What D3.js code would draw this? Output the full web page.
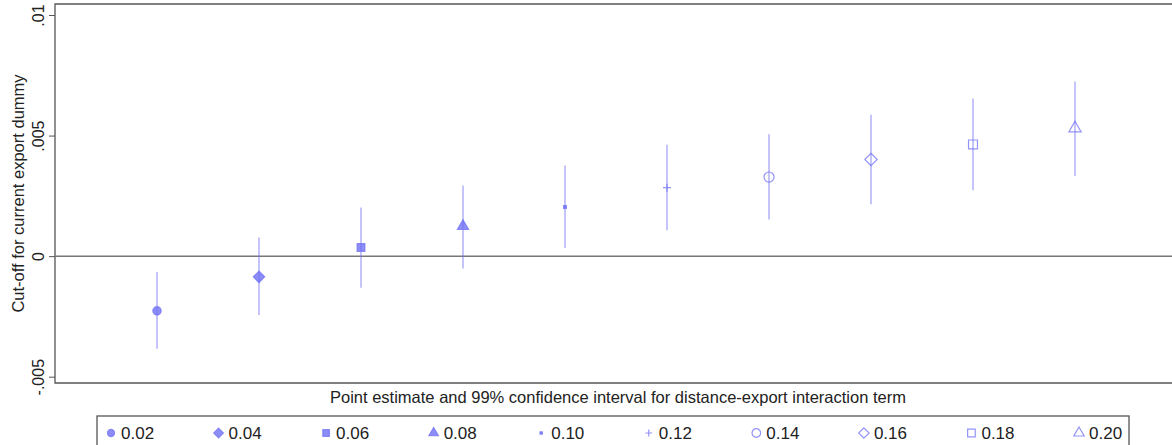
<!DOCTYPE html>
<html lang="en">
<head>
  <meta charset="UTF-8">
  <title>Cut-off estimates</title>
  <style>
    body { margin: 0; background: #fff; }
    svg text { font-family: "Liberation Sans", Arial, sans-serif; fill: #222; }
  </style>
</head>
<body>
  <div id="chart"></div>
  <script src="https://d3js.org/d3.v7.min.js"></script>
  <script>
// cut-off values (x) and estimates
const cutoffs = [0.02, 0.04, 0.06, 0.08, 0.10, 0.12, 0.14, 0.16, 0.18, 0.20]
const estimates = [-0.00227, -0.00086, 0.00036, 0.00124, 0.00204, 0.00284, 0.00328, 0.00401, 0.00463, 0.0053]
const ciLow = [-0.00384, -0.00244, -0.00131, -0.00051, 0.00034, 0.00107, 0.00152, 0.00215, 0.00273, 0.00332]
const ciHigh = [-0.00066, 0.00077, 0.00202, 0.00293, 0.00376, 0.00462, 0.00505, 0.00586, 0.00654, 0.00724]
const legendLabels = ['0.02', '0.04', '0.06', '0.08', '0.10', '0.12', '0.14', '0.16', '0.18', '0.20']
const yTicks = [-0.005, 0, 0.005, 0.01]
const yTickLabels = ['-.005', '0', '.005', '.01']

const W = 1172, H = 445
const margin = {top: 4, left: 55, bottom: 383}

// marker shapes, one per series (filled first five, hollow last five)
const markers = [
  {type: d3.symbolCircle, size: 55, fill: true},
  {type: d3.symbolSquare, size: 65, fill: true, rot: 45},
  {type: d3.symbolSquare, size: 60, fill: true},
  {type: d3.symbolTriangle, size: 55, fill: true},
  {type: d3.symbolSquare, size: 8, fill: true},
  {type: null, fill: false, cross: true},
  {type: d3.symbolCircle, size: 80, fill: false},
  {type: d3.symbolSquare, size: 75, fill: false, rot: 45},
  {type: d3.symbolSquare, size: 80, fill: false},
  {type: d3.symbolTriangle, size: 65, fill: false}
]
const blue = '#7070f5'

const xscale = d3.scaleLinear().domain([0, 0.22]).range([margin.left, margin.left + 0.22 * 5100])
const yscale = d3.scaleLinear().domain([-0.005, 0.01]).range([376.7, 15])

const svg = d3.select('#chart').append('svg')
  .attr('width', W)
  .attr('height', H)

// plot frame (right side runs past the window)
svg.append('path')
  .attr('d', `M${W + 5},${margin.top}H${margin.left}V${margin.bottom}H${W + 5}`)
  .attr('fill', 'none')
  .attr('stroke', '#555')
  .attr('stroke-width', 1.3)

// zero line
svg.append('line')
  .attr('x1', margin.left).attr('x2', W)
  .attr('y1', yscale(0)).attr('y2', yscale(0))
  .attr('stroke', '#777')
  .attr('stroke-width', 1.5)

// y axis
const leftAxis = d3.axisLeft(yscale)
  .tickValues(yTicks)
  .tickSize(6)
  .tickFormat((d, i) => yTickLabels[i])
const yAxis = svg.append('g')
  .attr('transform', `translate(${margin.left},0)`)
  .call(leftAxis)
yAxis.select('.domain').remove()
yAxis.selectAll('.tick line').attr('stroke', '#555')
yAxis.selectAll('.tick text')
  .attr('transform', 'rotate(-90)')
  .attr('x', 0)
  .attr('y', -11)
  .attr('dy', 0)
  .attr('text-anchor', 'middle')
  .style('font-size', '16px')
  .style('font-family', '"Liberation Sans", Arial, sans-serif')
  .attr('fill', '#222')

svg.append('text')
  .attr('transform', `translate(24,${(margin.top + margin.bottom) / 2}) rotate(-90)`)
  .attr('text-anchor', 'middle')
  .style('font-size', '16.5px')
  .text('Cut-off for current export dummy')

// confidence intervals
svg.append('g')
  .selectAll('line')
  .data(cutoffs)
  .enter()
  .append('line')
    .attr('x1', d => xscale(d)).attr('x2', d => xscale(d))
    .attr('y1', (d, i) => yscale(ciLow[i]))
    .attr('y2', (d, i) => yscale(ciHigh[i]))
    .attr('stroke', blue)
    .attr('stroke-opacity', 0.5)
    .attr('stroke-width', 1.6)

function drawMarker(g, m, scale) {
  const p = g.append('path')
    .attr('stroke', blue)
    .attr('stroke-width', 1.2)
    .attr('stroke-opacity', 0.75)
  if (m.cross) {
    const r = 4 * scale
    p.attr('d', `M${-r},0H${r}M0,${-r}V${r}`)
  } else {
    p.attr('d', d3.symbol().type(m.type).size(m.size * scale * scale)())
  }
  if (m.rot) p.attr('transform', `rotate(${m.rot})`)
  if (m.fill) p.attr('fill', blue).attr('fill-opacity', 0.8)
  else p.attr('fill', 'none')
}

// point estimates
cutoffs.forEach((c, i) => {
  const g = svg.append('g').attr('transform', `translate(${xscale(c)},${yscale(estimates[i])})`)
  drawMarker(g, markers[i], 1)
})

// x title
svg.append('text')
  .attr('x', 618)
  .attr('y', 403)
  .attr('text-anchor', 'middle')
  .style('font-size', '16.5px')
  .text('Point estimate and 99% confidence interval for distance-export interaction term')

// legend
svg.append('rect')
  .attr('x', 97).attr('y', 416)
  .attr('width', 1032).attr('height', 40)
  .attr('fill', '#fff')
  .attr('stroke', '#555')
  .attr('stroke-width', 1.3)

const legendX = d3.scaleLinear().domain([0, 9]).range([111, 1079])
legendLabels.forEach((lab, i) => {
  const g = svg.append('g').attr('transform', `translate(${legendX(i)},433)`)
  drawMarker(g, markers[i], 0.85)
  g.append('text')
    .attr('x', 10)
    .attr('y', 6)
    .style('font-size', '17px')
    .text(lab)
})
  </script>
</body>
</html>
